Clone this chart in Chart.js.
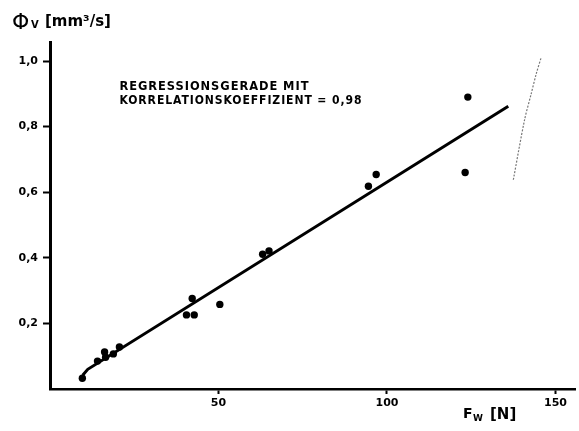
<!DOCTYPE html>
<html>
<head>
<meta charset="utf-8">
<script src="https://cdn.jsdelivr.net/npm/chart.js@4/dist/chart.umd.min.js"></script>
<style>
  html, body { margin: 0; padding: 0; background: #fff; }
  #chart { display: block; }
</style>
</head>
<body>
<canvas id="chart" width="579" height="431"></canvas>
<script>
// measured points: wear force F_W [N] vs volume flow Phi_V [mm^3/s]
const forceN = [9.6, 14.1, 16.2, 16.5, 18.8, 20.6, 40.5, 42.2, 42.8, 50.4, 63.1, 65.0, 94.5, 96.8, 123.2, 124.0]
const flowRate = [0.033, 0.085, 0.113, 0.097, 0.107, 0.128, 0.226, 0.276, 0.226, 0.258, 0.411, 0.421, 0.618, 0.654, 0.66, 0.89]

// regression line as drawn (small hook at the start)
const lineX = [9.7, 11.2, 136]
const lineY = [0.042, 0.06, 0.862]

// faint pencil stroke on the right of the scan
const strokeX = [137.5, 140.8, 142.8, 144.3, 145.8]
const strokeY = [0.638, 0.819, 0.9, 0.961, 1.012]

const xTicks = [50, 100, 150]
const yTicks = [0.2, 0.4, 0.6, 0.8, 1.0]

const noteLines = ['REGRESSIONSGERADE MIT', 'KORRELATIONSKOEFFIZIENT = 0,98']
const noteAt = { x: 20.6, y: 0.92 }

const toXY = (xs, ys) => xs.map((x, i) => ({ x: x, y: ys[i] }))

const tickFont = { family: 'DejaVu Sans', size: 11, weight: 'bold' }

// draw text squeezed to a given width
function fitText(ctx, text, x, y, width) {
  const w = ctx.measureText(text).width
  ctx.save()
  ctx.translate(x, y)
  ctx.scale(width / w, 1)
  ctx.fillText(text, 0, 0)
  ctx.restore()
}

const labelsPlugin = {
  id: 'labels',
  afterDraw(chart) {
    const ctx = chart.ctx
    const xs = chart.scales.x
    const ys = chart.scales.y
    ctx.save()
    ctx.fillStyle = '#000'
    ctx.textBaseline = 'middle'

    // annotation
    ctx.font = 'bold 12px "DejaVu Sans"'
    ctx.letterSpacing = '1px'
    const nx = xs.getPixelForValue(noteAt.x)
    const ny = ys.getPixelForValue(noteAt.y)
    fitText(ctx, noteLines[0], nx, ny, 190)
    fitText(ctx, noteLines[1], nx, ny + 14, 243)
    ctx.letterSpacing = '0px'

    // y axis title
    ctx.textBaseline = 'alphabetic'
    ctx.font = '22px "DejaVu Sans"'
    ctx.fillText('Φ', 12, 29)
    ctx.font = 'bold 10px "DejaVu Sans"'
    ctx.fillText('V', 31, 28)
    ctx.font = 'bold 15px "DejaVu Sans"'
    ctx.fillText('[mm³/s]', 45, 26)

    // x axis title
    ctx.font = 'bold 14px "DejaVu Sans"'
    ctx.fillText('F', 463, 418)
    ctx.font = 'bold 9px "DejaVu Sans"'
    ctx.fillText('W', 473, 421)
    ctx.font = 'bold 15px "DejaVu Sans"'
    ctx.fillText('[N]', 490, 419)
    ctx.restore()
  }
}

new Chart(document.getElementById('chart'), {
  type: 'scatter',
  data: {
    datasets: [
      {
        data: toXY(forceN, flowRate),
        backgroundColor: '#000',
        borderColor: '#000',
        pointRadius: 3.7,
        pointBorderWidth: 0
      },
      {
        data: toXY(lineX, lineY),
        showLine: true,
        borderColor: '#000',
        borderWidth: 3,
        pointRadius: 0,
        tension: 0
      },
      {
        data: toXY(strokeX, strokeY),
        showLine: true,
        borderColor: '#777',
        borderWidth: 1.2,
        borderDash: [2, 1.5],
        pointRadius: 0,
        tension: 0.3
      }
    ]
  },
  options: {
    responsive: false,
    animation: false,
    devicePixelRatio: 1,
    layout: { padding: { top: 42, right: 0, left: 0, bottom: 0 } },
    plugins: { legend: { display: false }, tooltip: { enabled: false } },
    scales: {
      x: {
        type: 'linear',
        min: 0,
        max: 155.8,
        afterBuildTicks: axis => { axis.ticks = xTicks.map(v => ({ value: v })) },
        afterFit: scale => { scale.height = 42 },
        grid: { drawOnChartArea: false, drawTicks: true, tickLength: 5, tickWidth: 2, tickColor: '#000' },
        border: { display: true, color: '#000', width: 2.5 },
        ticks: { color: '#000', font: tickFont, padding: 3, maxRotation: 0 }
      },
      y: {
        type: 'linear',
        min: 0,
        max: 1.058,
        afterBuildTicks: axis => { axis.ticks = yTicks.map(v => ({ value: v })) },
        afterFit: scale => { scale.width = 50 },
        grid: { drawOnChartArea: false, drawTicks: true, tickLength: 7, tickWidth: 2, tickColor: '#000' },
        border: { display: true, color: '#000', width: 3 },
        ticks: {
          color: '#000',
          font: tickFont,
          padding: 5,
          callback: v => v.toFixed(1).replace('.', ',')
        }
      }
    }
  },
  plugins: [labelsPlugin]
})
</script>
</body>
</html>
